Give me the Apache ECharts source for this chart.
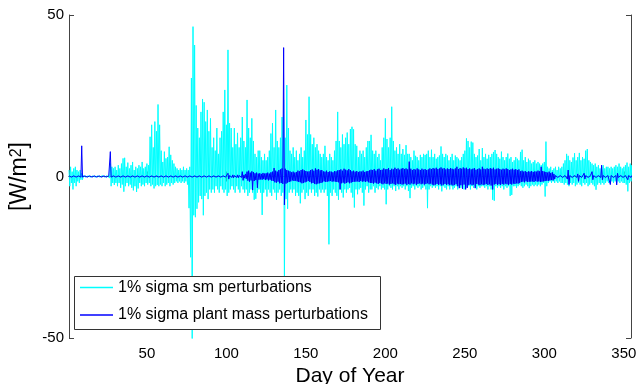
<!DOCTYPE html>
<html>
<head>
<meta charset="utf-8">
<script src="https://cdn.jsdelivr.net/npm/echarts/dist/echarts.min.js"></script>
<style>
  html, body { margin: 0; padding: 0; background: #fff; }
  #chart { width: 639px; height: 384px; }
</style>
</head>
<body>
<div id="chart"></div>
<script>
// day of year of the first value in each array
const firstDay = 1
const xTicks = [50, 100, 150, 200, 250, 300, 350]
const yTicks = [-50, 0, 50]
const seriesNames = ['1% sigma sm perturbations', '1% sigma plant mass perturbations']

// daily highest / lowest value of the sm run
const smHigh = [
  2, 3, 1.5, 2.5, 3, 2, 1.5, 2, 1, 0.3,
  0.2, 0.3, 0.2, 0.2, 0.3, 0.2, 0.2, 0.3, 0.2, 0.2,
  0.2, 0.3, 0.2, 0.2, 0.3, 0.5, 4, 3, 2.5, 3,
  2, 3.5, 2.5, 4, 5.6, 5.8, 3, 4.3, 2.5, 3.5,
  4.5, 2, 3, 2.5, 3.5, 3, 4.5, 2.5, 3, 4,
  3.5, 12.3, 16, 9, 17, 14, 22.3, 16, 8, 4.5,
  7.7, 5.6, 6, 9.2, 6.7, 5, 4, 3, 2.5, 2,
  2.5, 2, 3, 2, 2.5, 2, 3, 30.5, 46.4, 40.7,
  22, 15, 12, 20, 24, 23, 17, 20.6, 14, 18,
  9, 12, 8, 15, 7, 12, 14, 20, 26.8, 16,
  39.2, 16.5, 15, 9, 15, 10, 13.5, 9, 12, 18.4,
  11, 9, 23.7, 15, 12, 18, 11, 7, 6, 8,
  8, 6, 5, 7, 5, 6, 8, 13.3, 16.5, 9,
  20.6, 11, 9, 12, 18.4, 23.7, 12, 28.3, 15, 8,
  7, 9, 6, 8, 5, 7, 9, 6, 8, 17.5,
  13, 24.7, 13, 10, 12, 9, 10, 8, 7, 6,
  7, 9.5, 6, 5, 7, 6, 5, 8, 11, 20,
  11, 9, 13, 10, 12, 13.6, 10, 14.7, 15.4, 14.6,
  10, 9.5, 6, 8, 7, 8, 6, 9, 11, 11,
  12.9, 8, 7, 8, 6, 7, 5, 9, 12, 18,
  11.6, 9, 12, 21.6, 11, 8, 9, 7, 10, 7,
  8.5, 6.7, 9.7, 7, 7, 6, 5, 8, 6.4, 6,
  5, 6.7, 6, 7, 6.7, 7, 8, 6, 8.3, 6,
  7, 5.5, 6, 6.5, 9.3, 7, 6, 7, 6.5, 5,
  6, 7, 5, 6.5, 6, 5.5, 5, 6, 7, 8,
  11.8, 11, 9, 10.8, 10.5, 7, 6, 6.5, 8.5, 5,
  8.8, 6, 7, 5.5, 6.7, 6, 7, 7.6, 8.2, 7,
  6, 5.5, 7.7, 6, 5, 6, 7.1, 5.5, 6, 4.5,
  5, 6, 5.5, 5, 7.6, 8.3, 5, 6, 4.5, 5.5,
  5, 4, 4.5, 5, 4, 4.5, 4, 3.5, 4, 4.5,
  10.8, 3, 2.5, 3, 2, 2.5, 3, 2, 3, 2.5,
  3, 4, 5, 7, 6.4, 5, 4.5, 5.9, 7.2, 5,
  6, 7.3, 5, 6, 5.5, 8, 8.5, 5, 4.5, 4,
  3.5, 4, 3, 3.5, 2.5, 3, 3.5, 2.5, 3, 3,
  2.5, 3, 2.5, 3, 3.5, 3, 4, 3, 2.5, 3,
  3.5, 4.3, 3, 4, 3.5
]
const smLow = [
  -3, -2, -4, -2, -3, -1.5, -2, -1, -1, -0.3,
  -0.2, -0.3, -0.2, -0.2, -0.3, -0.2, -0.2, -0.3, -0.2, -0.2,
  -0.2, -0.3, -0.2, -0.2, -0.3, -0.5, -3, -2, -2.6, -2,
  -3, -2, -3.5, -2.5, -4.7, -3, -2, -3, -2.5, -3.5,
  -4.3, -3, -4.8, -3.7, -2, -3, -2.5, -3, -2, -2.5,
  -2, -3, -2.5, -3.7, -3, -2.6, -3, -2.5, -3, -2,
  -3, -2.5, -2, -3, -2, -2.5, -2, -1.5, -2, -1.5,
  -2, -1.5, -2, -1.5, -2.5, -9.8, -25, -55, -12, -12.6,
  -10, -8, -6, -7, -12, -6, -5, -7, -4, -5,
  -4, -5, -3, -4, -5, -3, -4, -5, -4, -6,
  -5, -4, -3, -4, -5, -3, -4, -5, -3, -4,
  -5, -4, -6, -5, -4, -5, -7.2, -6.9, -5, -4,
  -5, -11.9, -5, -4, -6.2, -4, -5, -6, -4, -5,
  -7.2, -5, -4, -6, -5, -33, -7, -10, -5, -4,
  -5, -4, -6, -5, -6, -8.3, -5, -4, -7, -5,
  -6, -4, -5, -4, -6, -5, -6.2, -4, -5, -4,
  -5, -4, -6, -21, -5, -6, -4, -5, -6, -7.2,
  -4, -5, -6.5, -4, -5, -4, -3.5, -5, -6.5, -9.6,
  -4, -5.5, -4, -3.5, -5, -9, -4, -3, -5, -4,
  -4, -3, -5, -3.5, -4, -3, -4, -3.5, -4, -8.6,
  -4, -3, -3.5, -4, -3, -4.5, -3, -4, -3, -3.5,
  -3, -4, -3, -4.5, -6.7, -3.5, -3, -4, -3, -3.5,
  -3, -4, -3.5, -3, -4, -9.8, -4, -3, -3.5, -3,
  -3.5, -3, -4, -3, -4.6, -3, -3.5, -4, -3, -4,
  -3, -4, -3.5, -3, -4, -3, -3.5, -3, -4, -3,
  -3.5, -3, -4, -3, -3.5, -3, -4, -3, -3.5, -3,
  -3, -3.5, -3, -4, -3, -4, -7.2, -7.5, -3, -3.5,
  -3, -3.5, -3, -4, -3, -3.5, -3, -6, -5.7, -3,
  -3, -3.5, -3, -2.5, -3, -3.5, -3, -2.5, -3, -3.6,
  -3, -2.5, -3, -2.5, -3, -2.5, -3, -2.5, -2, -6.2,
  -3, -2, -1.5, -2, -1.5, -2, -1.5, -2, -1.5, -2,
  -2, -2.5, -2, -2.5, -3, -2, -2.5, -2, -3, -2.5,
  -2, -2.5, -3, -2, -2.5, -2, -3, -2.5, -2, -2.5,
  -3, -4.1, -2.5, -2, -2.5, -2, -2.5, -2, -1.5, -2,
  -2, -1.5, -2, -1.5, -2, -1.5, -2, -1.5, -2, -2,
  -2.5, -4.6, -2, -1.5, -2
]

// daily highest / lowest value of the plant mass run
const plantHigh = [
  0.2, 0.2, 0.2, 0.2, 0.2, 0.2, 0.2, 0.2, 9.5, 0.2,
  0.2, 0.2, 0.2, 0.2, 0.2, 0.2, 0.2, 0.2, 0.2, 0.2,
  0.2, 0.2, 0.2, 0.2, 0.2, 0.2, 7.7, 0.2, 0.2, 0.2,
  0.2, 0.2, 0.2, 0.2, 0.2, 0.2, 0.2, 0.2, 0.2, 0.2,
  0.2, 0.2, 0.2, 0.2, 0.2, 0.2, 0.2, 0.2, 0.2, 0.2,
  0.2, 0.2, 0.2, 0.2, 0.2, 0.2, 0.2, 0.2, 0.2, 0.2,
  0.2, 0.2, 0.2, 0.2, 0.2, 0.2, 0.2, 0.2, 0.2, 0.2,
  0.2, 0.2, 0.2, 0.2, 0.2, 0.2, 0.2, 0.2, 0.2, 0.2,
  0.2, 0.2, 0.2, 0.2, 0.2, 0.2, 0.2, 0.2, 0.2, 0.2,
  0.2, 0.2, 0.2, 0.2, 0.2, 0.2, 0.2, 0.2, 0.2, 0.2,
  1, 0.3, 0.3, 0.5, 0.3, 0.3, 0.5, 0.3, 0.4, 1.5,
  0.5, 0.8, 1.5, 1.8, 1.2, 1.6, 1.4, 1, 1.2, 0.9,
  1, 0.8, 1.1, 0.9, 1, 1.2, 0.9, 1.3, 1.5, 2.6,
  1.8, 1.5, 2, 2.2, 2.5, 39.9, 2.4, 2, 1.8, 1.6,
  1.3, 1.5, 1.2, 1.4, 1.8, 1.6, 2, 2.2, 1.9, 1.7,
  1.5, 1.6, 2, 2.2, 1.8, 2.5, 2.1, 2.3, 1.9, 2,
  1.6, 1.5, 1.8, 1.4, 1.6, 1.5, 1.3, 1.7, 1.6, 1.9,
  2, 2.2, 1.8, 2.4, 2.1, 1.9, 2.3, 2, 1.6, 1.8,
  1.5, 1.7, 1.4, 1.6, 1.5, 1.8, 1.4, 1.6, 1.7, 1.9,
  2.1, 2, 2.3, 1.8, 2.2, 2.4, 2, 2.1, 2.5, 2.2,
  2.3, 2.6, 2, 2.4, 2.2, 2.7, 2.3, 2.5, 2.1, 2.4,
  2.6, 2.3, 2.5, 2.2, 4.6, 2.4, 2, 2.3, 2.1, 2.5,
  2.2, 2, 2.4, 2.1, 2.3, 2, 2.2, 2.5, 2.3, 2.6,
  2.4, 2.7, 2.3, 2.5, 2.8, 2.4, 2.6, 2.2, 2.5, 2.3,
  2.6, 2.4, 2.2, 2.5, 3, 2.3, 2.6, 2.4, 2.8, 2.5,
  2.7, 2.3, 2.5, 2.2, 2.4, 2.6, 2.1, 2.3, 2.5, 2.2,
  3, 2.4, 2.2, 2.5, 2.3, 2.6, 2.4, 2.7, 2.2, 2.4,
  2.5, 2.3, 2.1, 2.4, 2.2, 2.5, 2.3, 2, 2.2, 2.4,
  2.1, 2.3, 2, 2.2, 1.6, 1.8, 1.5, 1.7, 1.4, 1.6,
  1.5, 1.7, 1.4, 1.6, 1.5, 1.8, 1.6, 3, 1.7, 1.5,
  1.4, 1.2, 1.5, 1.1, 1.3, 0.8, 0.3, 0.3, 0.3, 0.3,
  0.3, 0.3, 0.3, 0.5, 2, 0.3, 0.3, 0.3, 0.3, 0.3,
  0.8, 0.3, 0.3, 0.3, 1, 0.3, 0.3, 0.3, 0.3, 1.5,
  0.3, 0.3, 0.3, 0.3, 0.3, 3.5, 0.3, 0.3, 0.3, 0.3,
  0.3, 0.3, 0.5, 0.3, 0.3, 1, 0.3, 0.3, 0.3, 0.3,
  0.3, 0.8, 0.3, 0.3, 0.3
]
const plantLow = [
  -0.2, -0.2, -0.2, -0.2, -0.2, -0.2, -0.2, -0.2, -0.2, -0.2,
  -0.2, -0.2, -0.2, -0.2, -0.2, -0.2, -0.2, -0.2, -0.2, -0.2,
  -0.2, -0.2, -0.2, -0.2, -0.2, -0.2, -0.2, -0.2, -0.2, -0.2,
  -0.2, -0.2, -0.2, -0.2, -0.2, -0.2, -0.2, -0.2, -0.2, -0.2,
  -0.2, -0.2, -0.2, -0.2, -0.2, -0.2, -0.2, -0.2, -0.2, -0.2,
  -0.2, -0.2, -0.2, -0.2, -0.2, -0.2, -0.2, -0.2, -0.2, -0.2,
  -0.2, -0.2, -0.2, -0.2, -0.2, -0.2, -0.2, -0.2, -0.2, -0.2,
  -0.2, -0.2, -0.2, -0.2, -0.2, -0.2, -0.2, -0.2, -0.2, -0.2,
  -0.2, -0.2, -0.2, -0.2, -0.2, -0.2, -0.2, -0.2, -0.2, -0.2,
  -0.2, -0.2, -0.2, -0.2, -0.2, -0.2, -0.2, -0.2, -0.2, -0.2,
  -0.8, -0.3, -0.3, -0.4, -0.3, -0.3, -0.4, -0.3, -0.3, -1.2,
  -0.5, -0.7, -1.3, -1.6, -1.2, -4.2, -1.4, -1.1, -3.5, -1,
  -0.9, -1, -0.8, -1.1, -0.9, -1.2, -1, -1.3, -1.4, -1.8,
  -1.9, -1.6, -2.1, -2, -2.3, -8.8, -2.2, -1.9, -1.7, -1.5,
  -1.2, -1.4, -1.3, -1.5, -1.7, -1.8, -2.1, -2, -1.8, -1.6,
  -1.4, -1.7, -2.1, -2, -2.3, -2.4, -2.2, -2.1, -2, -1.8,
  -1.5, -1.7, -1.6, -1.5, -1.4, -1.6, -1.5, -1.6, -1.7, -1.8,
  -4, -2.1, -1.9, -2.2, -2, -1.8, -2.1, -1.9, -1.7, -1.6,
  -1.6, -1.5, -1.7, -1.4, -1.6, -1.5, -1.7, -1.5, -1.8, -2,
  -2, -2.2, -1.9, -2.1, -2.3, -2, -2.2, -2.4, -2.1, -2.3,
  -2.2, -2.5, -2.3, -2.1, -2.4, -2.6, -2.2, -2.4, -2.3, -2.5,
  -2.4, -2.2, -2.6, -2.3, -2.5, -2.1, -2.4, -2.2, -2.6, -2.3,
  -2.1, -2.4, -2.2, -2.5, -2.3, -2.1, -2.4, -2.2, -2.5, -2.7,
  -2.5, -2.3, -2.6, -2.4, -2.8, -2.5, -2.3, -2.6, -2.4, -2.7,
  -2.5, -2.8, -2.6, -2.4, -3, -3.6, -2.7, -3.8, -2.5, -4,
  -3.5, -2.6, -2.4, -2.7, -2.5, -3.6, -2.3, -2.5, -2.7, -2.4,
  -2.6, -2.5, -2.3, -2.6, -2.4, -2.8, -4, -2.5, -2.3, -2.6,
  -2.4, -2.6, -2.3, -2.5, -2.2, -2.4, -2.6, -2.3, -2.5, -2.2,
  -2.3, -2.1, -2.2, -2, -1.7, -1.6, -1.8, -1.5, -1.7, -1.6,
  -1.6, -1.5, -1.7, -1.4, -1.6, -1.5, -1.7, -1.6, -1.5, -1.4,
  -1.3, -1.4, -1.2, -1.1, -1.2, -0.8, -0.3, -0.3, -0.3, -0.3,
  -0.3, -0.3, -0.3, -0.8, -2.5, -0.3, -0.3, -0.3, -0.3, -0.3,
  -1.5, -0.3, -0.3, -0.3, -0.8, -0.3, -0.3, -0.3, -0.3, -1,
  -0.3, -0.3, -0.3, -0.3, -0.3, -1, -0.3, -0.3, -0.3, -0.3,
  -2.5, -0.3, -0.3, -0.3, -2.6, -0.3, -0.3, -0.3, -0.3, -0.3,
  -0.3, -1, -0.3, -0.3, -0.3
]

const fontFamily = '"Liberation Sans", Arial, Helvetica, sans-serif'

// each day is drawn as a high point followed by a low point half a day later
function dailyTrace (highs, lows) {
  let pts = []
  for (let i = 0; i < highs.length; i++) {
    pts.push([firstDay + i, highs[i]])
    pts.push([firstDay + i + 0.5, lows[i]])
  }
  return pts
}

let chart = echarts.init(document.getElementById('chart'))
chart.setOption({
  animation: false,
  backgroundColor: '#fff',
  grid: {
    left: 69,
    right: 8,
    top: 15,
    bottom: 46,
    containLabel: false,
    outerBoundsMode: 'none'
  },
  legend: {
    orient: 'vertical',
    left: 80,
    top: 279.5,
    padding: 0,
    icon: 'rect',
    itemWidth: 33,
    itemHeight: 1.5,
    itemGap: 11.5,
    z: 101,
    textStyle: { fontSize: 16, fontFamily: fontFamily, color: '#000', lineHeight: 16 },
    data: seriesNames
  },
  // opaque legend box, drawn over the traces
  graphic: [
    {
      type: 'rect',
      z: 100,
      shape: { x: 74.5, y: 276.5, width: 306, height: 53 },
      style: { fill: '#fff', stroke: '#333', lineWidth: 1 }
    }
  ],
  xAxis: [
    {
      type: 'value',
      min: 1,
      max: 354.5,
      name: 'Day of Year',
      nameLocation: 'middle',
      nameGap: 18,
      nameTextStyle: { fontSize: 21, fontFamily: fontFamily, color: '#000' },
      axisLine: { show: true, lineStyle: { color: '#444', width: 1 } },
      axisTick: { show: true, inside: true, length: 5, customValues: xTicks, lineStyle: { color: '#444' } },
      axisLabel: { customValues: xTicks, fontSize: 15, fontFamily: fontFamily, color: '#000', margin: 8 },
      splitLine: { show: false }
    },
    {
      type: 'value',
      position: 'top',
      min: 1,
      max: 354.5,
      axisLine: { show: true, lineStyle: { color: '#444', width: 1 } },
      axisTick: { show: true, inside: true, length: 5, customValues: xTicks, lineStyle: { color: '#444' } },
      axisLabel: { show: false },
      splitLine: { show: false }
    }
  ],
  yAxis: [
    {
      type: 'value',
      min: -50,
      max: 50,
      interval: 50,
      name: '[W/m{sup|2}]',
      nameLocation: 'middle',
      nameRotate: 90,
      nameGap: 32,
      nameTextStyle: {
        fontSize: 23,
        fontFamily: fontFamily,
        color: '#000',
        rich: {
          sup: { fontSize: 16, fontFamily: fontFamily, color: '#000', verticalAlign: 'top', lineHeight: 12 }
        }
      },
      axisLine: { show: true, lineStyle: { color: '#444', width: 1 } },
      axisTick: { show: true, inside: true, length: 5, customValues: yTicks, lineStyle: { color: '#444' } },
      axisLabel: { customValues: yTicks, fontSize: 15, fontFamily: fontFamily, color: '#000', margin: 5 },
      splitLine: { show: false }
    },
    {
      type: 'value',
      position: 'right',
      min: -50,
      max: 50,
      interval: 50,
      axisLine: { show: true, lineStyle: { color: '#444', width: 1 } },
      axisTick: { show: true, inside: true, length: 5, lineStyle: { color: '#444' } },
      axisLabel: { show: false },
      splitLine: { show: false }
    }
  ],
  series: [
    {
      name: seriesNames[0],
      type: 'line',
      symbol: 'none',
      color: '#00ffff',
      lineStyle: { color: '#00ffff', width: 1 },
      data: dailyTrace(smHigh, smLow)
    },
    {
      name: seriesNames[1],
      type: 'line',
      symbol: 'none',
      color: '#0000ff',
      lineStyle: { color: '#0000ff', width: 1 },
      data: dailyTrace(plantHigh, plantLow)
    }
  ]
})
</script>
</body>
</html>
